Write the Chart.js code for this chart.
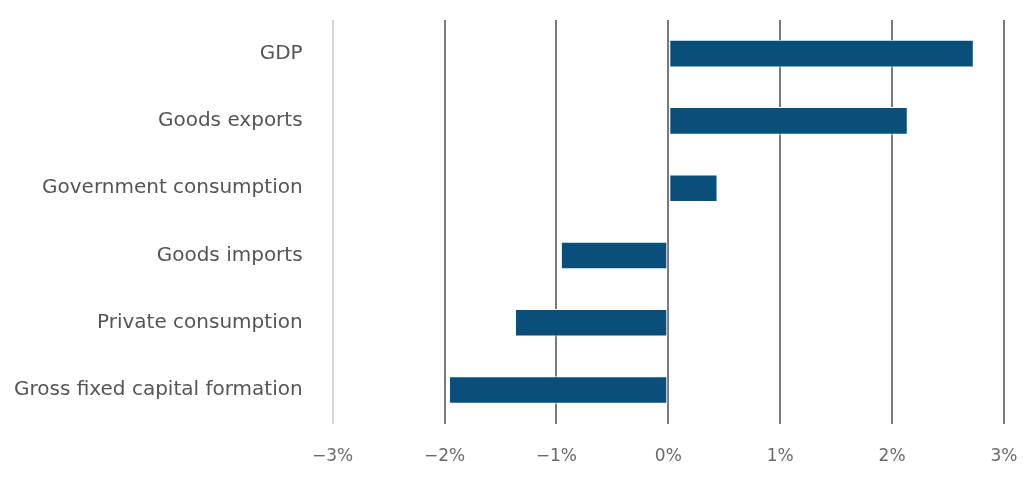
<!DOCTYPE html>
<html>
<head>
<meta charset="utf-8">
<script src="https://cdn.jsdelivr.net/npm/chart.js@4"></script>
<style>
  html, body { margin: 0; padding: 0; background: #fff; }
  #wrap { width: 1024px; height: 501px; }
</style>
</head>
<body>
<div id="wrap"><canvas id="growthChart"></canvas></div>
<script>
const categories = ['GDP', 'Goods exports', 'Government consumption', 'Goods imports', 'Private consumption', 'Gross fixed capital formation'];
const values = [2.73, 2.14, 0.44, -0.96, -1.37, -1.96];
const xTicks = [-3, -2, -1, 0, 1, 2, 3];

const ctx = document.getElementById('growthChart').getContext('2d');

const growthChart = new Chart(ctx, {
  type: 'bar',
  data: {
    labels: categories,
    datasets: [{
      data: values,
      backgroundColor: '#0a4f79',
      borderColor: '#ffffff',
      borderWidth: 1,
      borderSkipped: false,
      barPercentage: 0.41,
      categoryPercentage: 1
    }]
  },
  options: {
    indexAxis: 'y',
    responsive: true,
    maintainAspectRatio: false,
    animation: false,
    layout: {
      padding: { top: 20, right: 20, bottom: 11, left: -8 }
    },
    scales: {
      x: {
        min: -3,
        max: 3,
        afterBuildTicks: function(axis) {
          axis.ticks = xTicks.map(v => ({ value: v }));
        },
        afterFit: function(axis) {
          axis.paddingLeft = 0;
          axis.paddingRight = 0;
        },
        grid: {
          drawTicks: false,
          lineWidth: 2,
          color: function(context) {
            return context.tick && context.tick.value === -3 ? '#d4d4d4' : '#7a7a7a';
          }
        },
        border: { display: false },
        ticks: {
          padding: 23,
          color: '#6a6a6a',
          font: { family: 'DejaVu Sans', size: 17 },
          callback: function(value) {
            return (value < 0 ? '\u2212' + Math.abs(value) : value) + '%';
          }
        }
      },
      y: {
        afterFit: function(axis) {
          axis.paddingTop = 0;
          axis.paddingBottom = 0;
        },
        grid: { display: false },
        border: { display: false },
        ticks: {
          padding: 22,
          color: '#555555',
          font: { family: 'DejaVu Sans', size: 20 }
        }
      }
    },
    plugins: {
      legend: { display: false },
      tooltip: { enabled: false }
    }
  }
});
</script>
</body>
</html>
